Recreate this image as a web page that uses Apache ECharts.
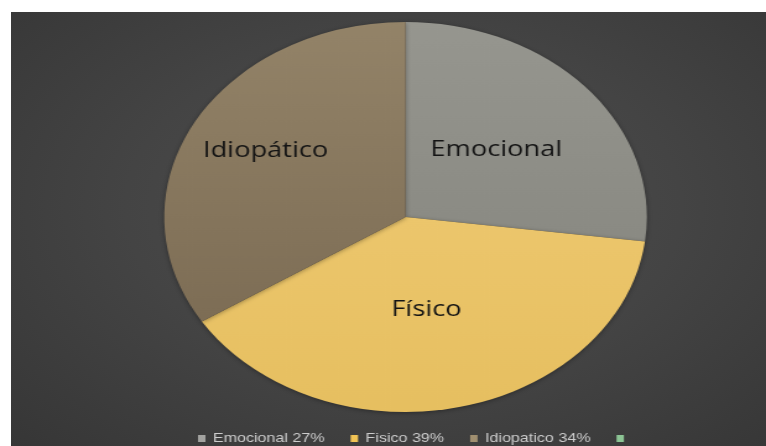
<!DOCTYPE html>
<html><head><meta charset="utf-8">
<script src="https://cdn.jsdelivr.net/npm/echarts@6/dist/echarts.min.js"></script>
<style>
html,body{margin:0;padding:0;background:#fff;width:766px;height:446px;overflow:hidden}
#bg{position:absolute;left:11px;top:12px;width:755px;height:434px;background:radial-gradient(ellipse at 52% 45%, #4f4f4f 0%, #444444 50%, #363636 100%);}
#chart{position:absolute;left:0;top:0;width:619px;height:446px;transform:scaleX(1.2375);transform-origin:0 0;}
</style></head><body><div id="bg"></div><div id="chart"></div>
<script>
// Data
const sliceLabels = ['Emocional', 'Físico', 'Idiopático', ''];
const legendNames = ['Emocional 27%', 'Fisico 39%', 'Idiopatico 34%', ' '];
const values = [27, 39, 34, 0];

// Styles
const sliceColors = [
  {top: '#96968f', bottom: '#8a8a83'},
  {top: '#ecc66c', bottom: '#e6bf60'},
  {top: '#938368', bottom: '#7d6d55'},
  {top: '#8cbc90', bottom: '#8cbc90'}
];
const legendIconColors = ['#a3a3a0', '#f2c455', '#a08f70', '#8cc494'];
const labelOffsets = [[-2, -1], [-5, -5], [-25, -18], [0, 0]];

const chart = echarts.init(document.getElementById('chart'), null, {renderer: 'canvas'});

const data = values.map((v, i) => ({
  name: legendNames[i],
  value: v,
  itemStyle: {
    color: new echarts.graphic.LinearGradient(0, 0, 0, 1, [
      {offset: 0, color: sliceColors[i].top},
      {offset: 1, color: sliceColors[i].bottom}
    ])
  },
  label: {
    show: v > 0,
    offset: labelOffsets[i],
    formatter: () => sliceLabels[i]
  }
}));

chart.setOption({
  animation: false,
  backgroundColor: 'transparent',
  legend: {
    data: legendNames.map((n, i) => ({name: n, itemStyle: {color: legendIconColors[i]}})),
    left: 160,
    top: 432,
    padding: 0,
    itemWidth: 6,
    itemHeight: 7,
    itemGap: 21,
    icon: 'rect',
    selectedMode: false,
    textStyle: {
      color: '#cdcdcd',
      fontFamily: 'Liberation Sans, Arial, sans-serif',
      fontSize: 13,
      padding: [0, 0, 0, 1]
    }
  },
  series: [{
    type: 'pie',
    center: [327.7, 217],
    radius: 195,
    startAngle: 90,
    clockwise: true,
    minAngle: 0,
    avoidLabelOverlap: false,
    labelLine: {show: false},
    itemStyle: {
      borderWidth: 0,
      shadowBlur: 4,
      shadowColor: 'rgba(0,0,0,0.35)',
      shadowOffsetY: 1
    },
    label: {
      position: 'inside',
      color: '#141414',
      fontFamily: 'Open Sans, sans-serif',
      fontSize: 22
    },
    emphasis: {disabled: true},
    data: data
  }]
});
</script>
</body></html>
